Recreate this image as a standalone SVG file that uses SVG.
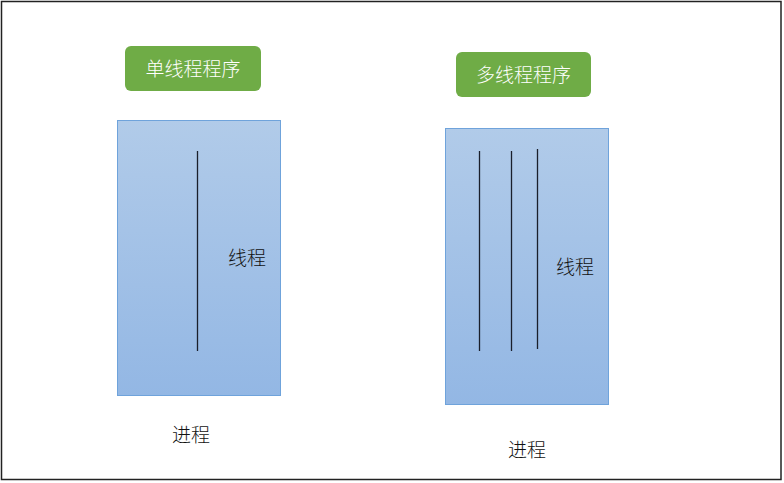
<svg xmlns="http://www.w3.org/2000/svg" width="784" height="483" viewBox="0 0 784 483">
<style>
.t{font-family:"Noto Sans CJK SC",sans-serif;font-size:19px;font-weight:300;fill:#111;text-anchor:middle}
.g{fill:#6FAC46;}
.gt{font-family:"Noto Sans CJK SC",sans-serif;font-size:19px;font-weight:300;fill:#fff;text-anchor:middle}
.p{fill:url(#bg);stroke:#6FA3DB;stroke-width:1}
.th{stroke:#1a1f2b;stroke-width:1.3}
</style>
<defs>
<linearGradient id="bg" x1="0" y1="0" x2="0" y2="1">
<stop offset="0" stop-color="#B1CBE9"/>
<stop offset="1" stop-color="#93B7E4"/>
</linearGradient>
</defs>
<rect x="1.5" y="1.5" width="779.5" height="478" fill="#fff" stroke="#222" stroke-width="1.5"/>
<g id="single-label">
<rect class="g" x="125" y="46" width="136" height="45" rx="6"/>
<text class="gt" x="193" y="76">单线程程序</text>
</g>
<g id="multi-label">
<rect class="g" x="456" y="52" width="135" height="45" rx="6"/>
<text class="gt" x="523.5" y="82">多线程程序</text>
</g>
<g id="single-process">
<rect class="p" x="117.5" y="120.5" width="163" height="275"/>
<text class="t" x="247" y="265">线程</text>
<text class="t" x="191" y="442">进程</text>
</g>
<g id="multi-process">
<rect class="p" x="445.5" y="128.5" width="163" height="276"/>
<text class="t" x="575" y="274">线程</text>
<text class="t" x="527" y="457">进程</text>
</g>
<g id="connectors">
<line class="th" x1="197.5" y1="151" x2="197.5" y2="351"/>
<line class="th" x1="479.5" y1="151" x2="479.5" y2="351"/>
<line class="th" x1="511.5" y1="151" x2="511.5" y2="351" stroke="#4a5566"/>
<line class="th" x1="537.5" y1="149" x2="537.5" y2="349"/>
</g>
</svg>
